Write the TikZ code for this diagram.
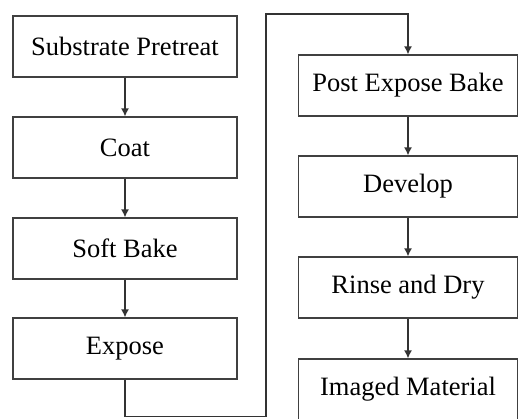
\documentclass[tikz,border=0pt]{standalone}
\usepackage{fontspec}
\setmainfont{Liberation Serif}
\usetikzlibrary{arrows.meta}
\begin{document}
\begin{tikzpicture}[x=1pt, y=-1pt,
  stepbox/.style={draw=black!75, line width=1.3pt, rectangle, minimum height=61pt, inner sep=0pt,
    font=\fontsize{26.5}{30}\selectfont},
  flow/.style={draw=black!80, line width=1.3pt, -{Latex[length=8pt,width=8pt]}}]
\useasboundingbox (0,0) rectangle (518,418);
% Left column
\node[stepbox, minimum width=224pt] (S1) at (125,46.5) {Substrate Pretreat};
\node[stepbox, minimum width=224pt] (S2) at (125,147.5) {Coat};
\node[stepbox, minimum width=224pt] (S3) at (125,248.5) {Soft Bake};
\node[stepbox, minimum width=224pt] (S4) at (125,348.5) {Expose};
% Right column
\node[stepbox, minimum width=219pt] (S5) at (408,85.5) {Post Expose Bake};
\node[stepbox, minimum width=219pt] (S6) at (408,186.5) {Develop};
\node[stepbox, minimum width=219pt] (S7) at (408,287.5) {Rinse and Dry};
\node[stepbox, minimum width=219pt] (S8) at (408,389.5) {Imaged Material};
% Turn points
\coordinate (c1) at (266,416.5);
\coordinate (c2) at (266,14);

% Arrows
\draw[flow] (S1) -- (S2);
\draw[flow] (S2) -- (S3);
\draw[flow] (S3) -- (S4);
\draw[flow] (S4.south) |- (c1) -- (c2) -| (S5.north);
\draw[flow] (S5) -- (S6);
\draw[flow] (S6) -- (S7);
\draw[flow] (S7) -- (S8);
\end{tikzpicture}
\end{document}
